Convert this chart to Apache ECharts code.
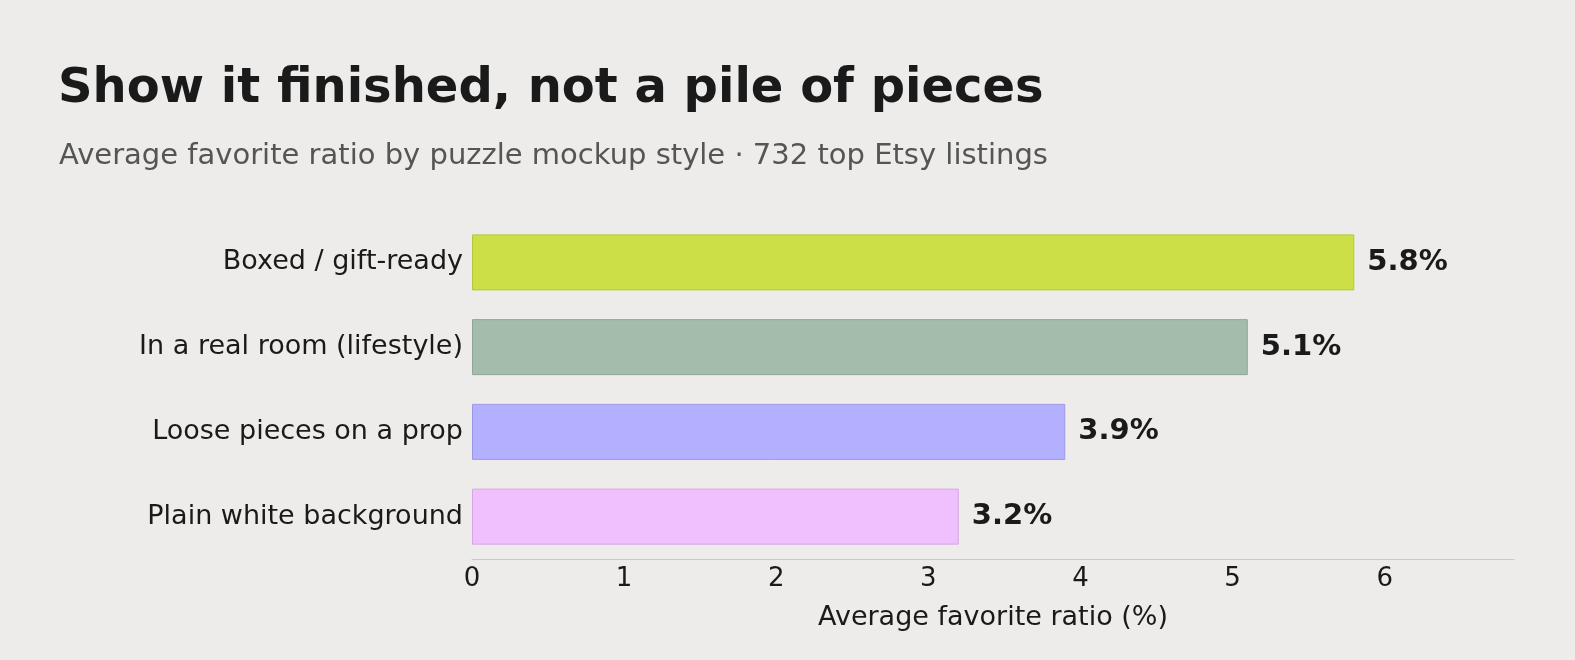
<!DOCTYPE html>
<html><head><meta charset="utf-8">
<script src="https://cdn.jsdelivr.net/npm/echarts@6/dist/echarts.min.js"></script>
<style>html,body{margin:0;background:#edecea}#c{width:1575px;height:660px}</style>
</head><body><div id="c"></div>
<script>
const categories = ["Boxed / gift-ready","In a real room (lifestyle)","Loose pieces on a prop","Plain white background"];
const values = [5.8, 5.1, 3.9, 3.2];
const colors = ["#cddf47","#a3bcab","#b3b0ff","#efbffe"];
const borders = ["#b5c540","#8ea697","#9c98e6","#d4a8e2"];
const xTicks = [0,1,2,3,4,5,6];
const chart = echarts.init(document.getElementById('c'));
const F = 'DejaVu Sans';
chart.setOption({
  backgroundColor:'#edecea',
  animation:false,
  title:[
    {text:'Show it finished, not a pile of pieces',left:53,top:61,textStyle:{fontFamily:F,fontSize:48,fontWeight:'bold',color:'#1a1a1a'}},
    {text:'Average favorite ratio by puzzle mockup style · 732 top Etsy listings',left:54,top:137,textStyle:{fontFamily:F,fontSize:29,fontWeight:'normal',color:'#555555'}}
  ],
  grid:{left:472,right:61,top:220,bottom:101,containLabel:false},
  xAxis:{type:'value',min:0,max:6.85,interval:1,
    axisLine:{show:true,lineStyle:{color:'#c8c8c8'}},axisTick:{show:false},splitLine:{show:false},
    axisLabel:{fontFamily:F,fontSize:26,color:'#1a1a1a',margin:7,formatter:v=>xTicks.includes(v)?String(v):''},
    name:'Average favorite ratio (%)',nameLocation:'middle',nameGap:45,
    nameTextStyle:{fontFamily:F,fontSize:27,color:'#1a1a1a'}},
  yAxis:{type:'category',data:categories,inverse:true,
    axisLine:{show:false},axisTick:{show:false},
    axisLabel:{fontFamily:F,fontSize:27,color:'#1a1a1a',margin:9}},
  series:[{type:'bar',barWidth:56,
    data:values.map((v,i)=>({value:v,itemStyle:{color:colors[i],borderColor:borders[i],borderWidth:1}})),
    label:{show:true,position:'right',distance:13,formatter:p=>p.value.toFixed(1)+'%',
      fontFamily:F,fontSize:29,fontWeight:'bold',color:'#1a1a1a'}}]
});
</script></body></html>
